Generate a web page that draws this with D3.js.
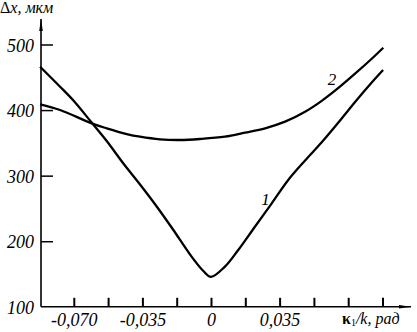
<!DOCTYPE html>
<html><head><meta charset="utf-8">
<script src="https://cdn.jsdelivr.net/npm/d3@7"></script>
<style>
html,body{margin:0;padding:0;background:#fff;}
svg{display:block;}
text{font-family:"Liberation Serif","Times New Roman",serif;fill:#000;}
</style></head>
<body>
<script>
// Data (x: κ1/k, рад; y: Δx, мкм)
const curve1X = [-0.0872,-0.0770,-0.0703,-0.0609,-0.0532,-0.0447,-0.0362,-0.0277,-0.0192,-0.0107,-0.0039,0,0.0071,0.0139,0.0224,0.0310,0.0394,0.0480,0.0565,0.0650,0.0735,0.0820,0.0878];
const curve1Y = [466.1,435.6,414.9,381.0,352.8,318.5,286.5,253.0,217.1,179.8,154.6,145.7,161.2,186.6,222.1,257.8,293.4,323.1,350.9,381.0,412.3,442.0,461.1];
const curve2X = [-0.0872,-0.0770,-0.0609,-0.0532,-0.0430,-0.0362,-0.0260,-0.0158,-0.0056,0.0071,0.0173,0.0276,0.0378,0.0480,0.0565,0.0650,0.0735,0.0820,0.0879];
const curve2Y = [408.8,400.1,379.8,372.2,363.5,359.4,355.4,354.4,355.9,359.4,365.5,372.2,382.3,397.5,414.1,433.8,455.5,478.3,495.1];
const xTickValues = [-0.07,-0.0525,-0.035,-0.0175,0,0.0175,0.035,0.0525,0.07,0.0875];
const xTickLabels = {"-0.07":"-0,070","-0.035":"-0,035","0":"0","0.035":"0,035"};
const yTickValues = [200,300,400,500];
const yLabelValues = [100,200,300,400,500];
const curveLabels = [{name:"1", x:0.0278, y:255}, {name:"2", x:0.0617, y:438}];

const W=417,H=332;
const svg=d3.select("body").append("svg").attr("width",W).attr("height",H);

const x=d3.scaleLinear().domain([0,0.035]).range([211,279.6]);
const y=d3.scaleLinear().domain([100,500]).range([306.8,44.5]);
const x0=41, yAxis=306.8;

// arrowhead
svg.append("defs").append("marker").attr("id","arr").attr("viewBox","0 0 12 6")
  .attr("refX",12).attr("refY",3).attr("markerWidth",12).attr("markerHeight",6)
  .attr("markerUnits","userSpaceOnUse").attr("orient","auto")
  .append("path").attr("d","M0,1.2 L12,3 L0,4.8 Z").attr("fill","#000");

// x axis
const gx=svg.append("g").attr("transform",`translate(0,${yAxis})`)
  .call(d3.axisBottom(x).tickValues(xTickValues).tickSize(-9).tickSizeOuter(0)
    .tickFormat(d=>xTickLabels[String(+d.toFixed(4))]||""));
gx.attr("font-family",null);
gx.select(".domain").remove();
gx.selectAll(".tick line").attr("stroke","#000").attr("stroke-width",2);
gx.selectAll(".tick text").attr("y",19).attr("dy",0).attr("font-size",18)
  .attr("font-style","italic").attr("font-family","Liberation Serif");
svg.append("line").attr("x1",x0).attr("x2",411).attr("y1",yAxis).attr("y2",yAxis)
  .attr("stroke","#000").attr("stroke-width",1.6).attr("marker-end","url(#arr)");

// y axis
const gy=svg.append("g").attr("transform",`translate(${x0},0)`)
  .call(d3.axisLeft(y).tickValues(yTickValues).tickSize(-12).tickSizeOuter(0).tickFormat(""));
gy.select(".domain").remove();
gy.selectAll(".tick line").attr("stroke","#000").attr("stroke-width",1.5);
svg.append("line").attr("x1",x0).attr("x2",x0).attr("y1",yAxis).attr("y2",19)
  .attr("stroke","#000").attr("stroke-width",1.6).attr("marker-end","url(#arr)");
svg.selectAll("text.ylab").data(yLabelValues).enter().append("text").attr("class","ylab")
  .attr("x",34).attr("y",d=>y(d)+7).attr("text-anchor","end")
  .attr("font-size",18).attr("font-style","italic").text(d=>d);

// curves
const line=d3.line().x(d=>x(d[0])).y(d=>y(d[1])).curve(d3.curveCatmullRom.alpha(0.5));
[[curve1X,curve1Y],[curve2X,curve2Y]].forEach(([xs,ys])=>{
  svg.append("path").datum(xs.map((v,i)=>[v,ys[i]])).attr("d",line)
    .attr("fill","none").attr("stroke","#000").attr("stroke-width",2.3);
});
svg.selectAll("text.clab").data(curveLabels).enter().append("text").attr("class","clab")
  .attr("x",d=>x(d.x)).attr("y",d=>y(d.y)).attr("text-anchor","middle")
  .attr("font-size",17).attr("font-style","italic").text(d=>d.name);

// axis titles
const t=svg.append("text").attr("x",0).attr("y",13).attr("font-size",16);
t.append("tspan").text("Δ");
t.append("tspan").attr("font-style","italic").text("x, мкм");
const xt=svg.append("text").attr("x",342).attr("y",324).attr("font-size",16);
xt.append("tspan").attr("font-weight","bold").text("κ");
xt.append("tspan").attr("font-size",10).attr("dy",2).text("1");
xt.append("tspan").attr("dy",-2).attr("font-style","italic").text("/k, рад");
</script>
</body></html>
